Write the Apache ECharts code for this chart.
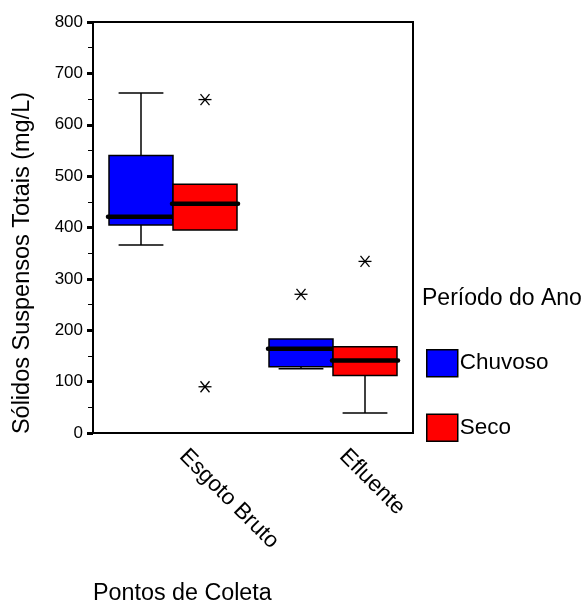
<!DOCTYPE html>
<html>
<head>
<meta charset="utf-8">
<script src="https://cdn.jsdelivr.net/npm/echarts@6/dist/echarts.min.js"></script>
<style>html,body{margin:0;padding:0;background:#fff}#c{width:584px;height:604px}</style>
</head>
<body>
<div id="c"></div>
<script>
// ---- data ----
const categories = ['Esgoto Bruto', 'Efluente'];
const seriesNames = ['Chuvoso', 'Seco'];
const yTickValues = [0, 100, 200, 300, 400, 500, 600, 700, 800];
// [min, Q1, median, Q3, max]
const chuvosoBox = [[366, 405, 421, 540, 662], [125, 129, 164, 183, 183]];
const secoBox = [[395, 395, 446, 484, 484], [39, 112, 141, 168, 168]];
// [category index, value]
const chuvosoOutliers = [[1, 270]];
const secoOutliers = [[0, 649], [0, 90], [1, 334]];

const FONT = "'Liberation Sans', Arial, Helvetica, sans-serif";

function boxRenderer(offsetFrac) {
  return function (params, api) {
    const cat = api.value(0);
    const band = api.size([1, 0])[0];
    const cx = api.coord([cat, 0])[0] + offsetFrac * band;
    const bw = band * 0.4, cw = band * 0.28;
    const yy = i => api.coord([cat, api.value(i)])[1];
    const yMin = yy(1), yQ1 = yy(2), yMed = yy(3), yQ3 = yy(4), yMax = yy(5);
    const color = api.visual('color');
    const ls = { stroke: '#000', lineWidth: 1.5 };
    const ch = [];
    if (yMax < yQ3 - 0.5) {
      ch.push({ type: 'line', shape: { x1: cx, y1: yQ3, x2: cx, y2: yMax }, style: ls });
      ch.push({ type: 'line', shape: { x1: cx - cw / 2, y1: yMax, x2: cx + cw / 2, y2: yMax }, style: ls });
    }
    if (yMin > yQ1 + 0.5) {
      ch.push({ type: 'line', shape: { x1: cx, y1: yQ1, x2: cx, y2: yMin }, style: ls });
      ch.push({ type: 'line', shape: { x1: cx - cw / 2, y1: yMin, x2: cx + cw / 2, y2: yMin }, style: ls });
    }
    ch.push({ type: 'rect', shape: { x: cx - bw / 2, y: yQ3, width: bw, height: yQ1 - yQ3 },
      style: { fill: color, stroke: '#000', lineWidth: 1.5 } });
    ch.push({ type: 'line', shape: { x1: cx - bw / 2 - 1, y1: yMed, x2: cx + bw / 2 + 1, y2: yMed },
      style: { stroke: '#000', lineWidth: 4.5, lineCap: 'round' } });
    return { type: 'group', children: ch };
  };
}

function starRenderer(offsetFrac) {
  return function (params, api) {
    const cat = api.value(0);
    const band = api.size([1, 0])[0];
    const p = api.coord([cat, api.value(1)]);
    const x = p[0] + offsetFrac * band, y = p[1];
    const st = { stroke: '#000', lineWidth: 1.3 };
    return { type: 'group', children: [
      { type: 'line', shape: { x1: x - 6.5, y1: y, x2: x + 6.5, y2: y }, style: st },
      { type: 'line', shape: { x1: x - 4.5, y1: y - 5.5, x2: x + 4.5, y2: y + 5.5 }, style: st },
      { type: 'line', shape: { x1: x - 4.5, y1: y + 5.5, x2: x + 4.5, y2: y - 5.5 }, style: st }
    ] };
  };
}

const chart = echarts.init(document.getElementById('c'), null, { renderer: 'canvas' });
chart.setOption({
  animation: false,
  backgroundColor: '#fff',
  textStyle: { fontFamily: FONT, color: '#000' },
  grid: { left: 93, top: 22, width: 320, height: 411, show: true, borderColor: '#000', borderWidth: 2, containLabel: false },
  xAxis: {
    type: 'category', data: categories, boundaryGap: true,
    axisLine: { lineStyle: { color: '#000', width: 2 } },
    axisTick: { alignWithLabel: true, length: 3, lineStyle: { color: '#000', width: 3 } },
    axisLabel: { rotate: -45, interval: 0, fontSize: 22.5, margin: 10, padding: [0, 0, 0, 14], color: '#000', fontFamily: FONT },
    splitLine: { show: false }
  },
  yAxis: {
    type: 'value', min: yTickValues[0], max: yTickValues[yTickValues.length - 1],
    interval: yTickValues[1] - yTickValues[0],
    axisLine: { show: true, lineStyle: { color: '#000', width: 2 } },
    axisTick: { show: true, length: 6, lineStyle: { color: '#000', width: 3 } },
    minorTick: { show: true, splitNumber: 2, length: 5, lineStyle: { color: '#000', width: 1 } },
    axisLabel: { fontSize: 17, margin: 10, color: '#000', fontFamily: FONT },
    splitLine: { show: false }
  },
  legend: {
    orient: 'vertical', left: 426, top: 349, padding: 0,
    itemWidth: 31, itemHeight: 27, itemGap: 36, selectedMode: false,
    data: seriesNames.map(n => ({ name: n, icon: 'rect' })),
    itemStyle: { borderColor: '#000', borderWidth: 1.5 },
    textStyle: { fontSize: 22.5, color: '#000', fontFamily: FONT, padding: [0, 0, 0, -3] }
  },
  graphic: [
    { type: 'text', x: 23, y: 263, rotation: Math.PI / 2,
      style: { text: 'Sólidos Suspensos Totais (mg/L)', fontSize: 23.5, fontFamily: FONT, fill: '#000', align: 'center', verticalAlign: 'middle' } },
    { type: 'text', x: 93, y: 594,
      style: { text: 'Pontos de Coleta', fontSize: 23.3, fontFamily: FONT, fill: '#000', align: 'left', verticalAlign: 'middle' } },
    { type: 'text', x: 422, y: 299,
      style: { text: 'Período do Ano', fontSize: 23, fontFamily: FONT, fill: '#000', align: 'left', verticalAlign: 'middle' } }
  ],
  series: [
    { name: seriesNames[0], type: 'custom', renderItem: boxRenderer(-0.2),
      itemStyle: { color: '#0000ff' }, encode: { x: 0, y: [1, 2, 3, 4, 5] },
      data: chuvosoBox.map((b, i) => [i].concat(b)) },
    { name: seriesNames[1], type: 'custom', renderItem: boxRenderer(0.2),
      itemStyle: { color: '#ff0000' }, encode: { x: 0, y: [1, 2, 3, 4, 5] },
      data: secoBox.map((b, i) => [i].concat(b)) },
    { name: 'outliers-' + seriesNames[0], type: 'custom', renderItem: starRenderer(-0.2),
      encode: { x: 0, y: 1 }, data: chuvosoOutliers },
    { name: 'outliers-' + seriesNames[1], type: 'custom', renderItem: starRenderer(0.2),
      encode: { x: 0, y: 1 }, data: secoOutliers }
  ]
});
</script>
</body>
</html>
